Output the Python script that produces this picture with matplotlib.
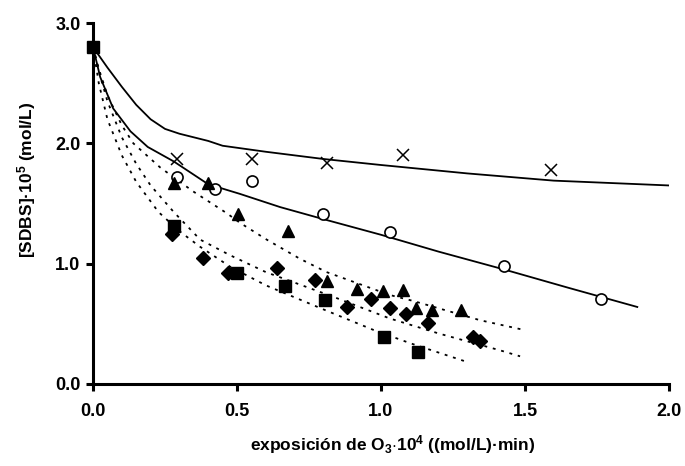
import matplotlib
matplotlib.use("Agg")
import matplotlib.pyplot as plt

plt.rcParams['font.family'] = ['Liberation Sans', 'DejaVu Sans']
plt.rcParams['font.weight'] = 'bold'
plt.rcParams['mathtext.fontset'] = 'custom'
plt.rcParams['mathtext.rm'] = 'Liberation Sans:bold'
plt.rcParams['mathtext.it'] = 'Liberation Sans:bold'
plt.rcParams['mathtext.bf'] = 'Liberation Sans:bold'
plt.rcParams['mathtext.default'] = 'rm'

# initial point
x0 = [0.0]
y0 = [2.80]

# measured series
x_cross = [0.29, 0.553, 0.814, 1.075, 1.59]
y_cross = [1.87, 1.87, 1.84, 1.90, 1.78]

x_circle = [0.29, 0.424, 0.551, 0.80, 1.031, 1.428, 1.763]
y_circle = [1.72, 1.62, 1.69, 1.41, 1.26, 0.98, 0.706]

x_tri = [0.282, 0.398, 0.505, 0.678, 0.811, 0.916, 1.008, 1.075, 1.122, 1.178, 1.277]
y_tri = [1.67, 1.667, 1.41, 1.27, 0.855, 0.786, 0.772, 0.78, 0.634, 0.615, 0.615]

x_diam = [0.273, 0.381, 0.47, 0.64, 0.771, 0.881, 0.964, 1.031, 1.087, 1.164, 1.321, 1.344]
y_diam = [1.25, 1.044, 0.92, 0.966, 0.864, 0.642, 0.706, 0.628, 0.581, 0.504, 0.393, 0.36]

x_sq = [0.28, 0.50, 0.667, 0.807, 1.01, 1.127]
y_sq = [1.31, 0.92, 0.814, 0.70, 0.393, 0.263]

# model curves (solid)
x_fit_cross = [0, 0.05, 0.1, 0.15, 0.2, 0.25, 0.3, 0.4, 0.45, 0.6, 0.8, 1.0, 1.3, 1.6, 2.0]
y_fit_cross = [2.8, 2.63, 2.47, 2.32, 2.2, 2.12, 2.08, 2.02, 1.98, 1.93, 1.87, 1.82, 1.75, 1.69, 1.65]

x_fit_circle = [0, 0.025, 0.07, 0.13, 0.19, 0.28, 0.4, 0.51, 0.65, 0.8, 1.0, 1.2, 1.43, 1.65, 1.89]
y_fit_circle = [2.8, 2.55, 2.29, 2.10, 1.97, 1.85, 1.66, 1.58, 1.47, 1.37, 1.24, 1.10, 0.95, 0.80, 0.64]

# model curves (dotted)
x_fit_tri = [0, 0.02, 0.05, 0.1, 0.14, 0.233, 0.348, 0.464, 0.51, 0.603, 0.719, 0.811, 1.03, 1.112, 1.344, 1.495]
y_fit_tri = [2.8, 2.62, 2.4, 2.15, 2.0, 1.80, 1.60, 1.42, 1.34, 1.20, 1.04, 0.93, 0.74, 0.69, 0.53, 0.45]

x_fit_diam = [0, 0.02, 0.05, 0.1, 0.15, 0.2, 0.28, 0.372, 0.476, 0.6, 0.834, 1.03, 1.2, 1.413, 1.483]
y_fit_diam = [2.8, 2.6, 2.35, 2.05, 1.83, 1.65, 1.43, 1.20, 1.07, 0.93, 0.725, 0.545, 0.42, 0.28, 0.23]

x_fit_sq = [0, 0.02, 0.05, 0.1, 0.15, 0.227, 0.3, 0.372, 0.476, 0.6, 0.8, 0.973, 1.1, 1.29]
y_fit_sq = [2.8, 2.5, 2.2, 1.9, 1.68, 1.43, 1.27, 1.14, 0.975, 0.82, 0.62, 0.45, 0.34, 0.19]

x_ticks = [0.0, 0.5, 1.0, 1.5, 2.0]
y_ticks = [0.0, 1.0, 2.0, 3.0]

fig = plt.figure(figsize=(6.85, 4.66), dpi=100)
ax = fig.add_axes([0.1358, 0.176, 0.8408, 0.7746])

lw = 1.3
ax.plot(x_fit_cross, y_fit_cross, color='black', lw=lw)
ax.plot(x_fit_circle, y_fit_circle, color='black', lw=lw)
dot = (0, (1.6, 3.2))
ax.plot(x_fit_tri, y_fit_tri, color='black', lw=1.3, linestyle=dot)
ax.plot(x_fit_diam, y_fit_diam, color='black', lw=1.3, linestyle=dot)
ax.plot(x_fit_sq, y_fit_sq, color='black', lw=1.3, linestyle=dot)

ax.plot(x_cross, y_cross, linestyle='none', marker='x', ms=8, mew=1.1, color='black')
ax.plot(x_circle, y_circle, linestyle='none', marker='o', ms=8, mew=1.2,
        markerfacecolor='white', markeredgecolor='black')
ax.plot(x_tri, y_tri, linestyle='none', marker='^', ms=8.5, color='black')
ax.plot(x_diam, y_diam, linestyle='none', marker='D', ms=7.2, color='black')
ax.plot(x_sq, y_sq, linestyle='none', marker='s', ms=8, color='black')
ax.plot(x0, y0, linestyle='none', marker='s', ms=8, color='black', clip_on=False, zorder=5)

ax.set_xlim(0, 2.0)
ax.set_ylim(0, 3.0)
ax.set_xticks(x_ticks)
ax.set_yticks(y_ticks)
ax.set_xticklabels([f'{v:.1f}' for v in x_ticks], fontsize=13, fontweight='bold')
ax.set_yticklabels([f'{v:.1f}' for v in y_ticks], fontsize=13, fontweight='bold')

for s in ['top', 'right']:
    ax.spines[s].set_visible(False)
for s in ['left', 'bottom']:
    ax.spines[s].set_linewidth(2.2)
ax.tick_params(axis='both', direction='out', length=5, width=2.2)
ax.tick_params(axis='x', pad=9)
ax.tick_params(axis='y', pad=4)

ax.set_xlabel('exposición de O$_3$$\\cdot$10$^4$ ((mol/L)·min)', fontsize=12.5, fontweight='bold', labelpad=7)
ax.xaxis.set_label_coords(0.52, -0.135)
ax.set_ylabel('[SDBS]·10$^5$ (mol/L)', fontsize=12.5, fontweight='bold')
ax.yaxis.set_label_coords(-0.095, 0.565)

fig.savefig('out.png', dpi=100)
